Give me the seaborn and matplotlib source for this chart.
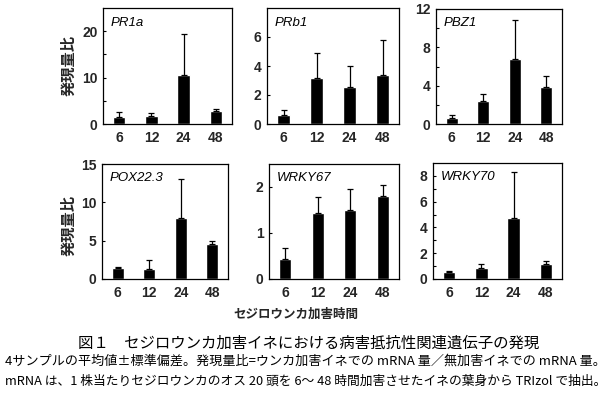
import matplotlib
matplotlib.use("Agg")
import matplotlib.pyplot as plt
import seaborn as sns
import pandas as pd
import numpy as np
from matplotlib.ticker import FixedLocator

sns.set_theme(style="white")
plt.rcParams['font.family'] = ['Liberation Sans', 'Noto Sans CJK JP', 'DejaVu Sans']

hours = ["6", "12", "24", "48"]
genes = ["PR1a", "PRb1", "PBZ1", "POX22.3", "WRKY67", "WRKY70"]
means = {
    "PR1a":    [1.45, 1.7, 10.6, 2.8],
    "PRb1":    [0.63, 3.2, 2.56, 3.4],
    "PBZ1":    [0.65, 2.37, 6.8, 3.9],
    "POX22.3": [1.5, 1.34, 7.9, 4.55],
    "WRKY67":  [0.43, 1.44, 1.5, 1.80],
    "WRKY70":  [0.55, 0.86, 4.7, 1.18],
}
sds = {
    "PR1a":    [1.05, 0.6, 8.7, 0.5],
    "PRb1":    [0.35, 1.7, 1.44, 2.4],
    "PBZ1":    [0.25, 0.73, 4.05, 1.1],
    "POX22.3": [0.05, 1.16, 5.2, 0.35],
    "WRKY67":  [0.24, 0.35, 0.45, 0.24],
    "WRKY70":  [0.05, 0.32, 3.6, 0.22],
}
ylims = {"PR1a": 25, "PRb1": 8, "PBZ1": 12, "POX22.3": 15, "WRKY67": 2.5, "WRKY70": 9}
major = {"PR1a": [0, 10, 20], "PRb1": [0, 2, 4, 6], "PBZ1": [0, 4, 8, 12],
         "POX22.3": [0, 5, 10, 15], "WRKY67": [0, 1, 2], "WRKY70": [0, 2, 4, 6, 8]}
minor = {"PR1a": [5, 15], "PRb1": [], "PBZ1": [2, 6, 10],
         "POX22.3": [], "WRKY67": [], "WRKY70": [1, 3, 5, 7]}
ylabel = "発現量比"
xlabel = "セジロウンカ加害時間"
cap1 = "図１　セジロウンカ加害イネにおける病害抵抗性関連遺伝子の発現"
cap2 = "4サンプルの平均値±標準偏差。発現量比=ウンカ加害イネでの mRNA 量／無加害イネでの mRNA 量。"
cap3 = "mRNA は、1 株当たりセジロウンカのオス 20 頭を 6～ 48 時間加害させたイネの葉身から TRIzol で抽出。"

W, H = 613, 395
fig = plt.figure(figsize=(W / 100, H / 100), dpi=100)
fig.patch.set_facecolor("white")

# pixel boxes: left, right, top, bottom
boxes = {
    "PR1a": (103, 232, 8, 124),
    "PRb1": (267, 399, 8, 124),
    "PBZ1": (436, 562, 9, 124),
    "POX22.3": (102, 228, 164, 279),
    "WRKY67": (269, 399, 164, 279),
    "WRKY70": (433, 562, 163, 279),
}

for g in genes:
    l, r, t, b = boxes[g]
    ax = fig.add_axes([l / W, 1 - b / H, (r - l) / W, (b - t) / H])
    df = pd.DataFrame({"hour": hours, "value": means[g]})
    sns.barplot(data=df, x="hour", y="value", color="black", width=0.38,
                errorbar=None, ax=ax, saturation=1)
    xs = np.arange(len(hours))
    ax.errorbar(xs, means[g], yerr=[np.zeros(len(hours)), sds[g]], fmt="none",
                ecolor="black", elinewidth=0.9, capsize=2.2, capthick=0.9)
    ax.set_xlim(-0.5, 3.5)
    ax.set_ylim(0, ylims[g])
    ax.set_xlabel("")
    ax.set_ylabel("")
    ax.yaxis.set_major_locator(FixedLocator(major[g]))
    ax.yaxis.set_minor_locator(FixedLocator(minor[g]))
    ax.set_yticklabels([str(v) for v in major[g]], fontsize=10, fontweight="bold",
                       family="Liberation Sans")
    ax.set_xticks(xs)
    ax.set_xticklabels(hours, fontsize=10, fontweight="bold", family="Liberation Sans")
    ax.xaxis.set_minor_locator(FixedLocator([0.5, 1.5, 2.5, 3.5]))
    ax.tick_params(axis="x", which="major", length=0, pad=5)
    ax.tick_params(axis="x", which="minor", length=3, width=0.8, direction="out", color="black")
    ax.tick_params(axis="y", which="both", length=2.5, width=0.8, direction="in",
                   color="black", left=True, pad=4)
    for s in ax.spines.values():
        s.set_visible(True)
        s.set_color("black")
        s.set_linewidth(0.9)
    ax.text(0.06, 0.875, g, transform=ax.transAxes, fontsize=9.5, style="italic",
            family="Liberation Sans", va="center", ha="left", color="black")

fig.text(68 / W, 1 - 66 / H, ylabel, rotation=90, ha="center", va="center",
         fontsize=11, fontweight="bold", family="Noto Sans CJK JP")
fig.text(68 / W, 1 - 226 / H, ylabel, rotation=90, ha="center", va="center",
         fontsize=11, fontweight="bold", family="Noto Sans CJK JP")
fig.text(296 / W, 1 - 314 / H, xlabel, ha="center", va="center",
         fontsize=9, fontweight="bold", family="Noto Sans CJK JP")

renderer = fig.canvas.get_renderer()
def fit_text(x, y, s, target_w, size0):
    t = fig.text(x / W, 1 - y / H, s, ha="center", va="center", fontsize=size0,
                 family=["Noto Sans CJK JP", "DejaVu Sans"], color="black")
    w = t.get_window_extent(renderer).width
    t.set_fontsize(size0 * target_w / w)
    return t

fit_text(309, 343, cap1, 462, 10)
fit_text(305, 361, cap2, 600, 8)
fit_text(306, 381, cap3, 603, 8)

fig.savefig("out.png", dpi=100, facecolor="white")
